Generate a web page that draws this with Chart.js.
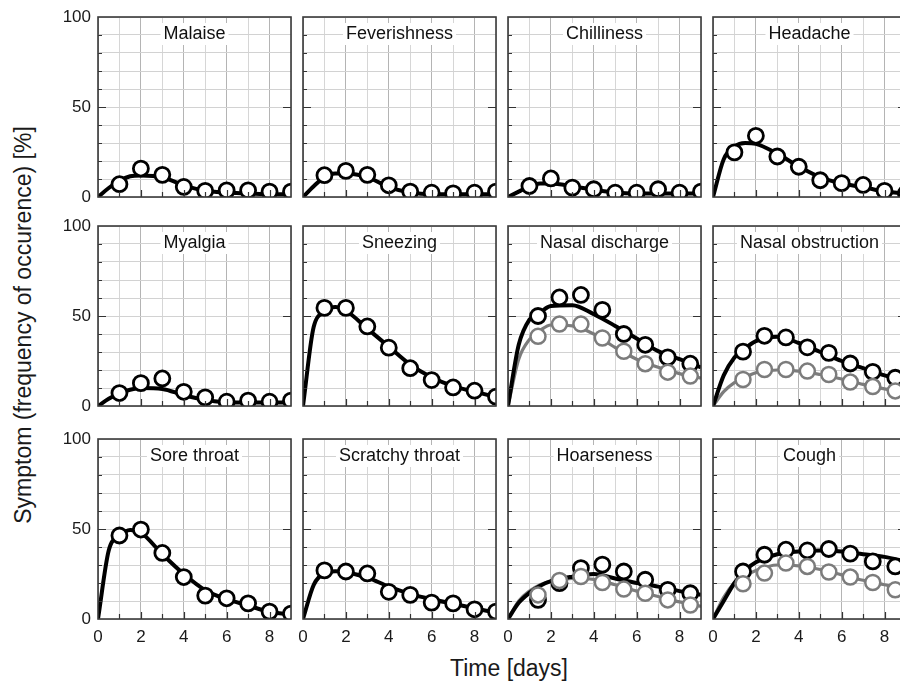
<!DOCTYPE html>
<html>
<head>
<meta charset="utf-8">
<script src="https://cdn.jsdelivr.net/npm/chart.js@4.4.1/dist/chart.umd.min.js"></script>
<style>
html, body { margin:0; padding:0; background:#fff; width:900px; height:686px; overflow:hidden; position:relative;
  font-family:'Liberation Sans', Arial, sans-serif; color:#1a1a1a; }
canvas { position:absolute; }
.ttl { position:absolute; font-size:23px; white-space:nowrap; text-align:center; height:28px; line-height:28px; }
#ytitle { width:460px; left:-207px; top:311px; transform:rotate(-90deg); }
#xtitle { width:200px; left:409px; top:654px; }
</style>
</head>
<body>
<div class="ttl" id="ytitle">Symptom (frequency of occurence) [%]</div>
<div class="ttl" id="xtitle">Time [days]</div>
<script>
// time axis of the measured points and of the fitted curves
const curveX = [0, 0.5, 1, 1.5, 2, 3, 4, 5, 6, 7, 8, 9];
const dayA = [1, 2, 3, 4, 5, 6, 7, 8, 9];
const dayB = [1.4, 2.4, 3.4, 4.4, 5.4, 6.4, 7.45, 8.5];
const xTicks = [0, 2, 4, 6, 8];
const yTicks = [0, 50, 100];

// row 1
const malaisePts = [7.1, 15.8, 12.3, 5.6, 3.4, 3.7, 3.7, 3.0, 3.0];
const malaiseFit = [0, 5, 9, 11.5, 12, 11, 6.5, 3.5, 2.5, 2, 1.5, 1.5];
const feverPts = [12.1, 14.5, 12.3, 6.5, 3, 2.4, 2, 2.4, 3];
const feverFit = [0, 6, 11, 13, 13, 11, 5.5, 2.5, 1.5, 1.5, 1.5, 1.5];
const chillPts = [6.1, 10.3, 5.2, 4.3, 2.4, 2.4, 4.3, 2.4, 3];
const chillFit = [0, 3, 6, 7.5, 7.5, 6, 4, 2.5, 2, 2, 2, 2];
const headachePts = [24.8, 34, 22.5, 16.8, 9.3, 7.7, 6.7, 3.4, 2];
const headacheFit = [0, 21, 28, 30, 29.5, 24, 17, 11, 7.5, 5.5, 3, 2];
// row 2
const myalgiaPts = [7.2, 12.7, 15.3, 7.9, 4.8, 2.4, 3, 2.4, 3];
const myalgiaFit = [0, 4, 7, 9, 10, 9.5, 6, 3.5, 2, 2, 2, 2];
const sneezePts = [54.5, 54.5, 44.2, 32.4, 21, 14.4, 10.3, 8.5, 5.2];
const sneezeFit = [0, 44, 52, 55, 53, 43, 33, 23, 16, 11, 8, 5];
const dischargePts = [50, 60.3, 61.7, 53.4, 40, 34, 27, 23.5];
const dischargeFit = [0, 34, 48, 52, 55.5, 56, 51, 44.5, 37.5, 30.5, 26, 21.5];
const dischargePts2 = [38.7, 45.5, 45.5, 37.8, 30.4, 23.5, 18.8, 16.6];
const dischargeFit2 = [0, 26, 37, 42, 45, 44.5, 40, 32.5, 26, 21.5, 18, 15.5];
const obstructPts = [30.2, 39, 38.1, 32.6, 29.5, 23.6, 19, 15.7];
const obstructFit = [0, 17, 27, 32, 36, 38.5, 35, 30, 25, 21, 17, 13.5];
const obstructPts2 = [14.7, 20.3, 20.3, 19.4, 17.5, 13.3, 10.8, 8.4];
const obstructFit2 = [0, 8, 13, 16, 18.5, 20, 19.4, 17.5, 15, 12, 9.5, 7.5];
// row 3
const soreThroatPts = [46.4, 49.7, 36.7, 23.3, 13, 11.5, 8.7, 4.1, 3];
const soreThroatFit = [0, 38, 46, 49.5, 48, 36, 25, 16, 11, 7.5, 4, 2.5];
const scratchyPts = [27, 26.4, 25.3, 15.1, 13.4, 9.1, 8.7, 5.4, 4.1];
const scratchyFit = [0, 19, 25.5, 26.5, 26, 23, 18, 14, 11, 8.5, 6, 3.5];
const hoarsePts = [10.6, 19.9, 28.3, 30.2, 26.4, 21.8, 16.2, 14.3];
const hoarseFit = [0, 9, 14.5, 18.5, 21, 23.5, 25, 22.5, 20, 18, 15.5, 13.5];
const hoarsePts2 = [13.4, 21.4, 23.6, 20.3, 16.6, 14.3, 10.6, 7.8];
const hoarseFit2 = [0, 10, 15.5, 19, 21, 22.5, 22, 19, 15.5, 12.5, 9.5, 7];
const coughPts = [26.4, 35.7, 38.5, 38.1, 38.9, 36.3, 32, 29.2];
const coughFit = [0, 10, 20, 27, 31.5, 36, 37.5, 38, 37.5, 36, 34.5, 32];
const coughPts2 = [19.6, 25.5, 31.1, 29.2, 26.1, 23.3, 20.3, 16.2];
const coughFit2 = [0, 12, 20, 24, 27, 30, 29.5, 27.5, 24.5, 21.5, 19, 16.5];

const panels = [
  { title: 'Malaise', x: dayA, pts: malaisePts, fit: malaiseFit },
  { title: 'Feverishness', x: dayA, pts: feverPts, fit: feverFit },
  { title: 'Chilliness', x: dayA, pts: chillPts, fit: chillFit },
  { title: 'Headache', x: dayA, pts: headachePts, fit: headacheFit },
  { title: 'Myalgia', x: dayA, pts: myalgiaPts, fit: myalgiaFit },
  { title: 'Sneezing', x: dayA, pts: sneezePts, fit: sneezeFit },
  { title: 'Nasal discharge', x: dayB, pts: dischargePts, fit: dischargeFit, pts2: dischargePts2, fit2: dischargeFit2 },
  { title: 'Nasal obstruction', x: dayB, pts: obstructPts, fit: obstructFit, pts2: obstructPts2, fit2: obstructFit2 },
  { title: 'Sore throat', x: dayA, pts: soreThroatPts, fit: soreThroatFit },
  { title: 'Scratchy throat', x: dayA, pts: scratchyPts, fit: scratchyFit },
  { title: 'Hoarseness', x: dayB, pts: hoarsePts, fit: hoarseFit, pts2: hoarsePts2, fit2: hoarseFit2 },
  { title: 'Cough', x: dayB, pts: coughPts, fit: coughFit, pts2: coughPts2, fit2: coughFit2 }
];

// where the plot boxes sit on the page
const colLeft = [98, 303, 508, 713];
const rowTop = [17, 226, 439];
const W = 193, H = 180;
const LEFT = 44, TOP = 12, PAD = 4, BOTTOM = 32;
const FONT = "'Liberation Sans', Arial, sans-serif";
const BLACK = '#000', GREY = '#7c7c7c';

const toXY = (xs, ys) => ys.map((y, i) => ({ x: xs[i], y: y }));

// panel title inside the box + frame + small inner tick marks
const panelDeco = {
  id: 'panelDeco',
  beforeDatasetsDraw(chart, args, opts) {
    const a = chart.chartArea, ctx = chart.ctx;
    ctx.save();
    ctx.font = '18px ' + FONT;
    const w = ctx.measureText(opts.title).width;
    const cx = (a.left + a.right) / 2, cy = a.top + 17;
    ctx.fillStyle = '#fff';
    ctx.fillRect(cx - w / 2 - 3, cy - 11, w + 6, 22);
    ctx.fillStyle = '#111';
    ctx.textAlign = 'center';
    ctx.textBaseline = 'middle';
    ctx.fillText(opts.title, cx, cy);
    ctx.restore();
  },
  afterDraw(chart) {
    const a = chart.chartArea, ctx = chart.ctx;
    const sx = chart.scales.x, sy = chart.scales.y;
    ctx.save();
    ctx.strokeStyle = '#333';
    ctx.lineWidth = 1.2;
    ctx.beginPath();
    for (let v = 1; v <= 8; v++) {
      const px = Math.round(sx.getPixelForValue(v)) + 0.5;
      const len = v % 2 === 0 ? 7 : 5;
      ctx.moveTo(px, a.bottom); ctx.lineTo(px, a.bottom - len);
    }
    for (let v = 10; v <= 90; v += 10) {
      const py = Math.round(sy.getPixelForValue(v)) + 0.5;
      const len = v === 50 ? 8 : 4;
      ctx.moveTo(a.left, py); ctx.lineTo(a.left + len, py);
      if (v === 50) { ctx.moveTo(a.right, py); ctx.lineTo(a.right - len, py); }
    }
    ctx.stroke();
    ctx.strokeStyle = '#3a3a3a';
    ctx.lineWidth = 1.6;
    ctx.strokeRect(a.left, a.top, a.right - a.left, a.bottom - a.top);
    ctx.restore();
  }
};

panels.forEach((p, i) => {
  const col = i % 4, row = Math.floor(i / 4);
  const cv = document.createElement('canvas');
  cv.width = LEFT + W + PAD;
  cv.height = TOP + H + BOTTOM;
  cv.style.left = (colLeft[col] - LEFT) + 'px';
  cv.style.top = (rowTop[row] - TOP) + 'px';
  document.body.appendChild(cv);

  const ds = [];
  if (p.pts2) {
    ds.push({ data: toXY(p.x, p.pts2), showLine: false, pointRadius: 7.5, pointBorderWidth: 2.5,
      pointBorderColor: GREY, pointBackgroundColor: '#fff', clip: 0 });
  }
  ds.push({ data: toXY(p.x, p.pts), showLine: false, pointRadius: 7.5, pointBorderWidth: 2.8,
    pointBorderColor: BLACK, pointBackgroundColor: '#fff', clip: 0 });
  ds.push({ data: toXY(curveX, p.fit), borderColor: BLACK, borderWidth: 4, pointRadius: 0,
    cubicInterpolationMode: 'monotone', clip: 0 });
  if (p.fit2) {
    ds.push({ data: toXY(curveX, p.fit2), borderColor: GREY, borderWidth: 3.2, pointRadius: 0,
      cubicInterpolationMode: 'monotone', clip: 0 });
  }

  new Chart(cv, {
    type: 'line',
    data: { datasets: ds },
    options: {
      responsive: false,
      animation: false,
      events: [],
      layout: { autoPadding: false, padding: { top: TOP, right: PAD, left: 0, bottom: 0 } },
      plugins: { legend: { display: false }, tooltip: { enabled: false }, panelDeco: { title: p.title } },
      scales: {
        x: {
          type: 'linear', min: 0, max: 9,
          ticks: {
            stepSize: 1, autoSkip: false, maxRotation: 0, padding: 8,
            color: '#1a1a1a', font: { family: FONT, size: 17 },
            callback: v => (row === 2 && xTicks.includes(v)) ? String(v) : ''
          },
          grid: { drawTicks: false, lineWidth: 1, color: c => (c.tick && c.tick.value % 2 === 0) ? '#b4b4b4' : '#d6d6d6' },
          border: { display: false },
          afterFit: s => { s.height = BOTTOM; s.paddingLeft = 0; s.paddingRight = 0; }
        },
        y: {
          min: 0, max: 100,
          ticks: {
            stepSize: 10, autoSkip: false, padding: 7,
            color: '#1a1a1a', font: { family: FONT, size: 17 },
            callback: v => (col === 0 && yTicks.includes(v)) ? String(v) : ''
          },
          grid: { drawTicks: false, lineWidth: 1, color: '#d2d2d2' },
          border: { display: false },
          afterFit: s => { s.width = LEFT; s.paddingTop = 0; s.paddingBottom = 0; }
        }
      }
    },
    plugins: [panelDeco]
  });
});
</script>
</body>
</html>
